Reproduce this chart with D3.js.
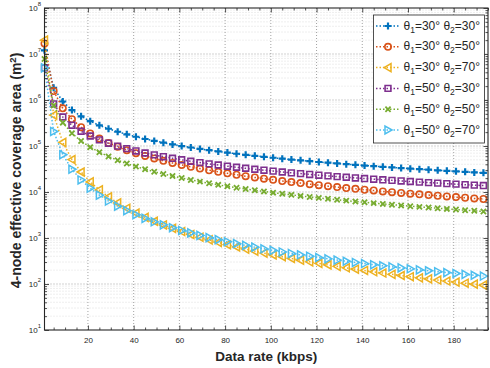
<!DOCTYPE html>
<html>
<head>
<meta charset="utf-8">
<script src="https://cdn.jsdelivr.net/npm/d3@7"></script>
<style>
  body { margin: 0; background: #fff; }
  svg { display: block; font-family: "Liberation Sans", Arial, sans-serif; }
</style>
</head>
<body>
<svg id="chart" width="490" height="368"></svg>
<script>
// data rate (kbps)
const rates = [1, 5, 9, 13, 17, 21, 25, 29, 33, 37, 41, 45, 49, 53, 57, 61, 65, 69, 73, 77,
  81, 85, 89, 93, 97, 101, 105, 109, 113, 117, 121, 125, 129, 133, 137, 141, 145, 149, 153, 157,
  161, 165, 169, 173, 177, 181, 185, 189, 193];

// theta1=30, theta2=30
const a30b30 = [1.2e7, 1.84e6, 9.28e5, 6.05e5, 4.42e5, 3.46e5, 2.82e5, 2.37e5, 2.04e5, 1.79e5,
  1.59e5, 1.42e5, 1.29e5, 1.18e5, 1.08e5, 9.98e4, 9.27e4, 8.65e4, 8.10e4, 7.61e4,
  7.18e4, 6.78e4, 6.43e4, 6.11e4, 5.82e4, 5.55e4, 5.30e4, 5.08e4, 4.87e4, 4.67e4,
  4.49e4, 4.33e4, 4.17e4, 4.03e4, 3.89e4, 3.76e4, 3.64e4, 3.53e4, 3.42e4, 3.32e4,
  3.22e4, 3.13e4, 3.05e4, 2.96e4, 2.89e4, 2.81e4, 2.74e4, 2.67e4, 2.61e4];
// theta1=30, theta2=50
const a30b50 = [1.7e7, 1.57e6, 6.58e5, 3.82e5, 2.57e5, 1.88e5, 1.45e5, 1.16e5, 9.62e4, 8.12e4,
  6.97e4, 6.08e4, 5.36e4, 4.77e4, 4.28e4, 3.87e4, 3.53e4, 3.23e4, 2.97e4, 2.74e4,
  2.55e4, 2.37e4, 2.21e4, 2.07e4, 1.95e4, 1.84e4, 1.73e4, 1.64e4, 1.56e4, 1.48e4,
  1.41e4, 1.34e4, 1.28e4, 1.22e4, 1.17e4, 1.12e4, 1.08e4, 1.03e4, 9.93e3, 9.56e3,
  9.21e3, 8.88e3, 8.58e3, 8.28e3, 8.01e3, 7.74e3, 7.50e3, 7.26e3, 7.04e3];
// theta1=30, theta2=70
const a30b70 = [2.0e7, 4.70e5, 1.20e5, 5.08e4, 2.72e4, 1.66e4, 1.11e4, 7.83e3, 5.79e3, 4.44e3,
  3.49e3, 2.81e3, 2.31e3, 1.92e3, 1.62e3, 1.38e3, 1.19e3, 1.04e3, 911, 804,
  715, 639, 574, 518, 470, 428, 391, 358, 329, 303,
  281, 260, 242, 225, 210, 197, 184, 173, 162, 153,
  144, 136, 129, 122, 116, 110, 104, 99.3, 94.5];
// theta1=50, theta2=30
const a50b30 = [5.0e6, 8.24e5, 4.27e5, 2.83e5, 2.09e5, 1.65e5, 1.36e5, 1.15e5, 9.96e4, 8.76e4,
  7.81e4, 7.04e4, 6.40e4, 5.86e4, 5.40e4, 5.01e4, 4.66e4, 4.36e4, 4.09e4, 3.86e4,
  3.64e4, 3.45e4, 3.28e4, 3.12e4, 2.98e4, 2.85e4, 2.72e4, 2.61e4, 2.51e4, 2.41e4,
  2.32e4, 2.24e4, 2.16e4, 2.09e4, 2.02e4, 1.96e4, 1.90e4, 1.84e4, 1.79e4, 1.74e4,
  1.69e4, 1.64e4, 1.60e4, 1.56e4, 1.52e4, 1.48e4, 1.44e4, 1.41e4, 1.38e4];
// theta1=50, theta2=50
const a50b50 = [7.8e6, 7.56e5, 3.22e5, 1.89e5, 1.28e5, 9.44e4, 7.33e4, 5.91e4, 4.90e4, 4.15e4,
  3.58e4, 3.13e4, 2.76e4, 2.47e4, 2.22e4, 2.01e4, 1.83e4, 1.68e4, 1.55e4, 1.43e4,
  1.33e4, 1.24e4, 1.16e4, 1.09e4, 1.03e4, 9.68e3, 9.15e3, 8.67e3, 8.23e3, 7.82e3,
  7.45e3, 7.11e3, 6.79e3, 6.49e3, 6.22e3, 5.97e3, 5.73e3, 5.51e3, 5.30e3, 5.11e3,
  4.92e3, 4.75e3, 4.59e3, 4.44e3, 4.29e3, 4.15e3, 4.02e3, 3.90e3, 3.78e3];
// theta1=50, theta2=70
const a50b70 = [5.0e6, 2.07e5, 6.45e4, 3.12e4, 1.83e4, 1.21e4, 8.54e3, 6.36e3, 4.93e3, 3.93e3,
  3.20e3, 2.67e3, 2.25e3, 1.93e3, 1.67e3, 1.46e3, 1.29e3, 1.14e3, 1.02e3, 920,
  832, 757, 691, 633, 582, 538, 498, 462, 431, 402,
  376, 352, 331, 312, 294, 278, 263, 249, 236, 224,
  214, 203, 194, 185, 177, 169, 162, 155, 149];

const legendLabels = [["30", "30"], ["30", "50"], ["30", "70"], ["50", "30"], ["50", "50"], ["50", "70"]];
const xTicks = [20, 40, 60, 80, 100, 120, 140, 160, 180];
const yExponents = [1, 2, 3, 4, 5, 6, 7, 8];

const seriesList = [
  { values: a30b30, color: "#0072BD", marker: "plus" },
  { values: a30b50, color: "#D95319", marker: "circle" },
  { values: a30b70, color: "#EDB120", marker: "left" },
  { values: a50b30, color: "#7E2F8E", marker: "square" },
  { values: a50b50, color: "#77AC30", marker: "cross" },
  { values: a50b70, color: "#4DBEEE", marker: "right" }
];

const markerPaths = {
  plus: "M-3.5,0H3.5M0,-3.5V3.5",
  circle: "M3.2,0A3.2,3.2 0 1,1 -3.2,0A3.2,3.2 0 1,1 3.2,0Z",
  left: "M-4,0L3,-4L3,4Z",
  square: "M-2.9,-2.9H2.9V2.9H-2.9Z",
  cross: "M-2.6,-2.6L2.6,2.6M-2.6,2.6L2.6,-2.6",
  right: "M4,0L-3,-4L-3,4Z"
};
const markerWidth = { plus: 2.2, circle: 1.6, left: 1.5, square: 1.6, cross: 1.8, right: 1.5 };

const svg = d3.select("#chart");
const plotLeft = 44.5, plotRight = 488, plotTop = 8, plotBottom = 330;
const axisColor = "#262626";

const x = d3.scaleLinear().domain([1, 195]).range([plotLeft, plotRight]);
const y = d3.scaleLog().domain([10, 1e8]).range([plotBottom, plotTop]);

const majorY = yExponents.map(e => Math.pow(10, e));
const minorY = [];
yExponents.slice(0, -1).forEach(e => {
  for (let k = 2; k <= 9; k++) minorY.push(k * Math.pow(10, e));
});
const minorX = d3.range(5, 196, 5).filter(v => v % 20 !== 0);

// grid
const grid = svg.append("g");
grid.selectAll(".ymin").data(minorY).enter().append("line")
  .attr("x1", plotLeft).attr("x2", plotRight)
  .attr("y1", d => y(d)).attr("y2", d => y(d))
  .attr("stroke", "#d0d0d0").attr("stroke-width", 0.7)
  .attr("stroke-dasharray", "1,2");
grid.selectAll(".ymaj").data(majorY.slice(1, -1)).enter().append("line")
  .attr("x1", plotLeft).attr("x2", plotRight)
  .attr("y1", d => y(d)).attr("y2", d => y(d))
  .attr("stroke", "#8c8c8c").attr("stroke-width", 0.8)
  .attr("stroke-dasharray", "1,2");
grid.selectAll(".xmaj").data(xTicks).enter().append("line")
  .attr("x1", d => x(d)).attr("x2", d => x(d))
  .attr("y1", plotTop).attr("y2", plotBottom)
  .attr("stroke", "#8c8c8c").attr("stroke-width", 0.8)
  .attr("stroke-dasharray", "1,2");

// series: dotted lines then markers
const line = d3.line().x((d, i) => x(rates[i])).y(d => y(d));
seriesList.forEach(s => {
  svg.append("path")
    .attr("d", line(s.values))
    .attr("fill", "none")
    .attr("stroke", s.color)
    .attr("stroke-width", 1.5)
    .attr("stroke-dasharray", "1.5,2");
  svg.append("g").selectAll("path").data(s.values).enter().append("path")
    .attr("d", markerPaths[s.marker])
    .attr("transform", (d, i) => "translate(" + x(rates[i]) + "," + y(d) + ")")
    .attr("fill", "none")
    .attr("stroke", s.color)
    .attr("stroke-width", markerWidth[s.marker]);
});

// axes (ticks inward, box with ticks on all sides)
function styleAxis(g) {
  g.select(".domain").remove();
  g.selectAll("line").attr("stroke", axisColor).attr("stroke-width", 0.8);
  g.selectAll("text").attr("fill", axisColor).style("font-size", "8px");
}
svg.append("g").attr("transform", "translate(0," + plotBottom + ")")
  .call(d3.axisBottom(x).tickValues(xTicks).tickSize(-4.5).tickPadding(7.8))
  .call(styleAxis);
svg.append("g").attr("transform", "translate(0," + plotBottom + ")")
  .call(d3.axisBottom(x).tickValues(minorX).tickSize(-2.5).tickFormat(""))
  .call(styleAxis);
svg.append("g").attr("transform", "translate(0," + plotTop + ")")
  .call(d3.axisTop(x).tickValues(xTicks).tickSize(-4.5).tickFormat(""))
  .call(styleAxis);
svg.append("g").attr("transform", "translate(0," + plotTop + ")")
  .call(d3.axisTop(x).tickValues(minorX).tickSize(-2.5).tickFormat(""))
  .call(styleAxis);
svg.append("g").attr("transform", "translate(" + plotLeft + ",0)")
  .call(d3.axisLeft(y).tickValues(majorY).tickSize(-4.5).tickFormat(""))
  .call(styleAxis);
svg.append("g").attr("transform", "translate(" + plotLeft + ",0)")
  .call(d3.axisLeft(y).tickValues(minorY).tickSize(-2.5).tickFormat(""))
  .call(styleAxis);
svg.append("g").attr("transform", "translate(" + plotRight + ",0)")
  .call(d3.axisRight(y).tickValues(majorY).tickSize(-4.5).tickFormat(""))
  .call(styleAxis);
svg.append("g").attr("transform", "translate(" + plotRight + ",0)")
  .call(d3.axisRight(y).tickValues(minorY).tickSize(-2.5).tickFormat(""))
  .call(styleAxis);

svg.append("rect")
  .attr("x", plotLeft).attr("y", plotTop)
  .attr("width", plotRight - plotLeft).attr("height", plotBottom - plotTop)
  .attr("fill", "none").attr("stroke", axisColor).attr("stroke-width", 1.1);

// y tick labels 10^n
const yLab = svg.append("g").selectAll("text").data(yExponents).enter().append("text")
  .attr("x", 41).attr("y", d => y(Math.pow(10, d)) + 2.8)
  .attr("text-anchor", "end")
  .attr("fill", axisColor)
  .style("font-size", "8px");
yLab.append("tspan").text("10");
yLab.append("tspan").attr("dy", -4.5).style("font-size", "6px").text(d => d);

// axis titles
svg.append("text")
  .attr("x", (plotLeft + plotRight) / 2).attr("y", 361)
  .attr("text-anchor", "middle")
  .attr("fill", axisColor)
  .style("font-size", "13.5px").style("font-weight", "bold")
  .text("Data rate (kbps)");

const yTitle = svg.append("text")
  .attr("transform", "rotate(-90)")
  .attr("x", -170.5).attr("y", 21)
  .attr("text-anchor", "middle")
  .attr("fill", axisColor)
  .style("font-size", "14px").style("font-weight", "bold");
yTitle.append("tspan").text("4-node effective coverage area (m");
yTitle.append("tspan").attr("dy", -5).style("font-size", "9.5px").text("2");
yTitle.append("tspan").attr("dy", 5).text(")");

// legend
const legend = svg.append("g");
legend.append("rect")
  .attr("x", 373.5).attr("y", 15)
  .attr("width", 111).attr("height", 128)
  .attr("fill", "#fff").attr("stroke", axisColor).attr("stroke-width", 0.8);
seriesList.forEach((s, i) => {
  const cy = 26 + i * 20.8;
  legend.append("line")
    .attr("x1", 376).attr("x2", 400).attr("y1", cy).attr("y2", cy)
    .attr("stroke", s.color).attr("stroke-width", 1.5)
    .attr("stroke-dasharray", "1.5,2");
  legend.append("path")
    .attr("d", markerPaths[s.marker])
    .attr("transform", "translate(388," + cy + ")")
    .attr("fill", "none").attr("stroke", s.color)
    .attr("stroke-width", markerWidth[s.marker]);
  const t = legend.append("text")
    .attr("x", 403.5).attr("y", cy + 3.5)
    .attr("fill", axisColor)
    .style("font-size", "12px");
  t.append("tspan").text("θ");
  t.append("tspan").attr("dy", 3).style("font-size", "8.5px").text("1");
  t.append("tspan").attr("dy", -3).text("=" + legendLabels[i][0] + "° θ");
  t.append("tspan").attr("dy", 3).style("font-size", "8.5px").text("2");
  t.append("tspan").attr("dy", -3).text("=" + legendLabels[i][1] + "°");
});
</script>
</body>
</html>
